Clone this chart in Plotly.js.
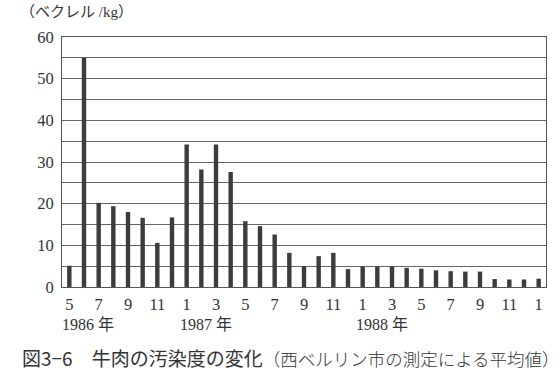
<!DOCTYPE html>
<html>
<head>
<meta charset="utf-8">
<script src="https://cdn.plot.ly/plotly-3.0.1.min.js"></script>
<style>html,body{margin:0;padding:0;background:#fff;}#chart{width:560px;height:373px;}</style>
</head>
<body>
<div id="chart"></div>
<script>
// Months (1986-05 to 1989-01)
const months = ["1986-05","1986-06","1986-07","1986-08","1986-09","1986-10","1986-11","1986-12",
  "1987-01","1987-02","1987-03","1987-04","1987-05","1987-06","1987-07","1987-08","1987-09","1987-10","1987-11","1987-12",
  "1988-01","1988-02","1988-03","1988-04","1988-05","1988-06","1988-07","1988-08","1988-09","1988-10","1988-11","1988-12",
  "1989-01"];
// Bq/kg
const values = [5.1, 55, 20.2, 19.4, 18.0, 16.6, 10.6, 16.7,
  34.2, 28.2, 34.2, 27.6, 15.8, 14.6, 12.6, 8.2, 5.0, 7.4, 8.2, 4.3,
  4.9, 4.9, 4.9, 4.6, 4.4, 4.0, 3.8, 3.7, 3.7, 1.9, 1.8, 1.8, 2.0];
const tickMonths = ["1986-05","1986-07","1986-09","1986-11","1987-01","1987-03","1987-05","1987-07","1987-09","1987-11",
  "1988-01","1988-03","1988-05","1988-07","1988-09","1988-11","1989-01"];
const tickLabels = ["5","7","9","11","1","3","5","7","9","11","1","3","5","7","9","11","1"];
const yearAt = ["1986-05","1987-01","1988-01"];
const yearLabels = ["1986 年","1987 年","1988 年"];
const yUnit = "（ベクレル /kg）";
const captionHead = "図3−6　牛肉の汚染度の変化";
const captionTail = "（西ベルリン市の測定による平均値）";

const serif = "Liberation Serif, Noto Sans CJK JP, serif";
const cjk = "Noto Sans CJK JP, sans-serif";

const annotations = yearAt.map((m, i) => ({
  xref: 'x', yref: 'paper', x: m, y: 0, yshift: -27,
  xanchor: 'left', yanchor: 'top', xshift: -9,
  text: yearLabels[i], showarrow: false,
  font: {family: serif, size: 16, color: '#333'}
}));
annotations.push({
  xref: 'paper', yref: 'paper', x: (18 - 62) / 484, y: 1, yshift: 35,
  xanchor: 'left', yanchor: 'top', showarrow: false,
  text: yUnit, font: {family: serif, size: 15, color: '#333'}
});
annotations.push({
  xref: 'paper', yref: 'paper', x: (20 - 62) / 484, y: 0, yshift: -55,
  xanchor: 'left', yanchor: 'top', showarrow: false,
  text: captionHead + '<span style="font-size:17.5px;font-family:Noto Sans CJK JP;font-weight:300">' + captionTail + '</span>',
  font: {family: cjk, size: 19, color: '#333'}
});

const trace = {
  type: 'bar', x: months, y: values,
  marker: {color: '#3c3c3c', line: {width: 0}},
  hoverinfo: 'skip'
};

const layout = {
  width: 560, height: 373,
  margin: {l: 62, r: 14, t: 37, b: 86},
  paper_bgcolor: '#fff', plot_bgcolor: '#fff',
  showlegend: false,
  bargap: 0.7,
  xaxis: {
    type: 'category', categoryorder: 'array', categoryarray: months,
    range: [-0.5, months.length - 0.5],
    tickmode: 'array', tickvals: tickMonths, ticktext: tickLabels,
    ticks: '', showgrid: false, zeroline: false,
    showline: true, linecolor: '#555', linewidth: 1, mirror: true,
    tickfont: {family: serif, size: 16.5, color: '#333'},
    ticklabelstandoff: 2
  },
  yaxis: {
    range: [0, 60], dtick: 10, tick0: 0,
    ticks: '', showgrid: true, gridcolor: '#666', gridwidth: 1,
    minor: {dtick: 5, showgrid: true, gridcolor: '#666', gridwidth: 1},
    zeroline: false,
    showline: true, linecolor: '#555', linewidth: 1, mirror: true,
    tickfont: {family: serif, size: 16.5, color: '#333'},
    ticklabelstandoff: 4
  },
  annotations: annotations
};

Plotly.newPlot('chart', [trace], layout, {staticPlot: true, displayModeBar: false});
</script>
</body>
</html>
